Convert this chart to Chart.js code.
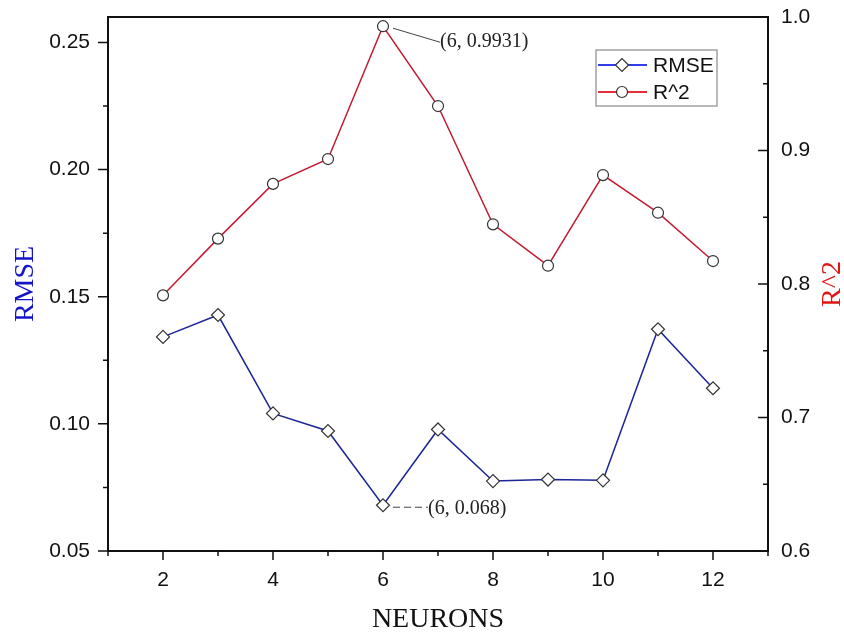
<!DOCTYPE html>
<html>
<head>
<meta charset="utf-8">
<script src="https://cdn.jsdelivr.net/npm/chart.js@4.4.1/dist/chart.umd.min.js"></script>
<style>
  html, body { margin: 0; padding: 0; background: #ffffff; }
  #wrap { width: 844px; height: 635px; }
</style>
</head>
<body>
<div id="wrap"><canvas id="chart" width="844" height="635"></canvas></div>
<script>
// Hidden-layer size vs. model error (RMSE, left axis) and fit (R^2, right axis)
const neurons = [2, 3, 4, 5, 6, 7, 8, 9, 10, 11, 12];
const rmse = [0.1342, 0.1428, 0.1041, 0.0972, 0.068, 0.0978, 0.0775, 0.0781, 0.0778, 0.1372, 0.114];
const r2 = [0.7915, 0.834, 0.875, 0.8936, 0.9931, 0.9333, 0.8447, 0.8137, 0.8816, 0.8534, 0.8172];

// Axis ticks (all tick marks) and the subset that carries a label
const xTicks = [1, 2, 3, 4, 5, 6, 7, 8, 9, 10, 11, 12, 13];
const xLabels = [2, 4, 6, 8, 10, 12];
const rmseTicks = [0.05, 0.075, 0.10, 0.125, 0.15, 0.175, 0.20, 0.225, 0.25];
const rmseLabels = [0.05, 0.10, 0.15, 0.20, 0.25];
const r2Ticks = [0.6, 0.65, 0.7, 0.75, 0.8, 0.85, 0.9, 0.95, 1.0];
const r2Labels = [0.6, 0.7, 0.8, 0.9, 1.0];

const RMSE_LINE = '#1b2596';
const R2_LINE = '#c41a30';
const MARKER_EDGE = '#333333';
const TICK_FONT = { family: 'Liberation Sans, Arial, sans-serif', size: 21 };
const SERIF = 'Liberation Serif, Times New Roman, serif';

const has = (list, v) => list.some(t => Math.abs(t - v) < 1e-9);

// Fixed axis widths; the end labels may hang over the plot edges
const fixWidth = w => s => { s.width = w; s.paddingTop = 0; s.paddingBottom = 0; };

// Frame around the plot area plus hand-placed tick marks
const framePlugin = {
  id: 'frame',
  beforeDatasetsDraw(chart) {
    const { ctx, chartArea: a, scales } = chart;
    ctx.save();
    ctx.strokeStyle = '#111';
    ctx.lineWidth = 2;
    ctx.strokeRect(a.left, a.top, a.right - a.left, a.bottom - a.top);
    ctx.lineWidth = 1.5;
    ctx.beginPath();
    xTicks.forEach(v => {
      const px = scales.x.getPixelForValue(v);
      const len = has(xLabels, v) ? 9 : 5;
      ctx.moveTo(px, a.bottom);
      ctx.lineTo(px, a.bottom + len);
    });
    rmseTicks.forEach(v => {
      const py = scales.yL.getPixelForValue(v);
      const len = has(rmseLabels, v) ? 10 : 5;
      ctx.moveTo(a.left, py);
      ctx.lineTo(a.left - len, py);
    });
    r2Ticks.forEach(v => {
      const py = scales.yR.getPixelForValue(v);
      const len = has(r2Labels, v) ? 10 : 5;
      ctx.moveTo(a.right, py);
      ctx.lineTo(a.right - len, py);
    });
    ctx.stroke();

    // right-hand axis title, reading bottom to top
    ctx.fillStyle = '#e01515';
    ctx.font = '28px ' + SERIF;
    ctx.textAlign = 'center';
    ctx.textBaseline = 'middle';
    ctx.translate(chart.width - 11, (a.top + a.bottom) / 2);
    ctx.rotate(-Math.PI / 2);
    ctx.fillText('R^2', 0, 0);
    ctx.restore();
  }
};

// Callouts for the best point of each series, plus the boxed legend
const notesPlugin = {
  id: 'notes',
  afterDatasetsDraw(chart) {
    const { ctx, chartArea: a, scales } = chart;
    const best = r2.indexOf(Math.max(...r2));
    const low = rmse.indexOf(Math.min(...rmse));
    ctx.save();
    ctx.font = '20px ' + SERIF;
    ctx.fillStyle = '#222';
    ctx.textBaseline = 'middle';
    ctx.textAlign = 'left';
    ctx.strokeStyle = '#444';
    ctx.lineWidth = 1;

    const px1 = scales.x.getPixelForValue(neurons[best]);
    const py1 = scales.yR.getPixelForValue(r2[best]);
    ctx.beginPath();
    ctx.moveTo(px1 + 10, py1 + 2);
    ctx.lineTo(px1 + 57, py1 + 16);
    ctx.stroke();
    ctx.fillText('(' + neurons[best] + ', ' + r2[best] + ')', px1 + 57, py1 + 16);

    const px2 = scales.x.getPixelForValue(neurons[low]);
    const py2 = scales.yL.getPixelForValue(rmse[low]);
    ctx.beginPath();
    ctx.setLineDash([7, 4]);
    ctx.moveTo(px2 + 10, py2 + 2);
    ctx.lineTo(px2 + 45, py2 + 2);
    ctx.stroke();
    ctx.setLineDash([]);
    ctx.fillText('(' + neurons[low] + ', ' + rmse[low] + ')', px2 + 45, py2 + 4);

    // legend box
    const lx = a.right - 172, ly = a.top + 33, lw = 121, lh = 56;
    ctx.fillStyle = '#fff';
    ctx.fillRect(lx, ly, lw, lh);
    ctx.strokeStyle = '#8a8a8a';
    ctx.lineWidth = 1.2;
    ctx.strokeRect(lx, ly, lw, lh);
    const rows = [
      { text: 'RMSE', color: '#3140e6', style: 'rectRot', r: 6.5, y: ly + 15 },
      { text: 'R^2', color: '#e3303a', style: 'circle', r: 5.5, y: ly + 42 }
    ];
    ctx.font = '21px Liberation Sans, Arial, sans-serif';
    rows.forEach(row => {
      ctx.strokeStyle = row.color;
      ctx.lineWidth = 2;
      ctx.beginPath();
      ctx.moveTo(lx + 2, row.y);
      ctx.lineTo(lx + 51, row.y);
      ctx.stroke();
      ctx.fillStyle = '#fff';
      ctx.strokeStyle = MARKER_EDGE;
      ctx.lineWidth = 1.2;
      Chart.helpers.drawPoint(ctx, { pointStyle: row.style, radius: row.r, borderWidth: 1.2, rotation: 0 }, lx + 26, row.y);
      ctx.fillStyle = '#111';
      ctx.fillText(row.text, lx + 57, row.y + 1);
    });
    ctx.restore();
  }
};

const ctxEl = document.getElementById('chart').getContext('2d');
new Chart(ctxEl, {
  type: 'line',
  data: {
    datasets: [
      {
        label: 'RMSE',
        data: neurons.map((n, i) => ({ x: n, y: rmse[i] })),
        yAxisID: 'yL',
        borderColor: RMSE_LINE,
        borderWidth: 1.5,
        pointStyle: 'rectRot',
        pointRadius: 6.5,
        pointBackgroundColor: '#ffffff',
        pointBorderColor: MARKER_EDGE,
        pointBorderWidth: 1.2,
        tension: 0
      },
      {
        label: 'R^2',
        data: neurons.map((n, i) => ({ x: n, y: r2[i] })),
        yAxisID: 'yR',
        borderColor: R2_LINE,
        borderWidth: 1.5,
        pointStyle: 'circle',
        pointRadius: 5.5,
        pointBackgroundColor: '#ffffff',
        pointBorderColor: MARKER_EDGE,
        pointBorderWidth: 1.2,
        tension: 0
      }
    ]
  },
  options: {
    responsive: false,
    animation: false,
    layout: { padding: { top: 17, left: 0, right: 0, bottom: 0 } },
    plugins: { legend: { display: false }, tooltip: { enabled: false } },
    scales: {
      x: {
        type: 'linear',
        min: 1,
        max: 13,
        afterBuildTicks: s => { s.ticks = xTicks.map(v => ({ value: v })); },
        afterFit: s => { s.height = 84; s.paddingLeft = 0; s.paddingRight = 0; },
        grid: { display: false, drawTicks: false },
        border: { display: false },
        ticks: {
          autoSkip: false, maxRotation: 0, padding: 17,
          font: TICK_FONT, color: '#111',
          callback: v => has(xLabels, v) ? String(v) : ''
        },
        title: {
          display: true, text: 'NEURONS', color: '#111',
          font: { family: SERIF, size: 28, lineHeight: 1 },
          padding: { top: 0, bottom: 1 }
        }
      },
      yL: {
        type: 'linear',
        position: 'left',
        min: 0.05,
        max: 0.26,
        afterBuildTicks: s => { s.ticks = rmseTicks.map(v => ({ value: v })); },
        afterFit: fixWidth(108),
        grid: { display: false, drawTicks: false },
        border: { display: false },
        ticks: {
          autoSkip: false, padding: 18,
          font: TICK_FONT, color: '#111',
          callback: v => has(rmseLabels, v) ? v.toFixed(2) : ''
        },
        title: {
          display: true, text: 'RMSE', color: '#1414c8',
          font: { family: SERIF, size: 28, lineHeight: 1 },
          padding: { top: 12, bottom: 0 }
        }
      },
      yR: {
        type: 'linear',
        position: 'right',
        min: 0.6,
        max: 1.0,
        afterBuildTicks: s => { s.ticks = r2Ticks.map(v => ({ value: v })); },
        afterFit: fixWidth(76),
        grid: { display: false, drawTicks: false },
        border: { display: false },
        ticks: {
          autoSkip: false, padding: 13,
          font: TICK_FONT, color: '#111',
          callback: v => has(r2Labels, v) ? v.toFixed(1) : ''
        },
        title: { display: false }
      }
    }
  },
  plugins: [framePlugin, notesPlugin]
});
</script>
</body>
</html>
